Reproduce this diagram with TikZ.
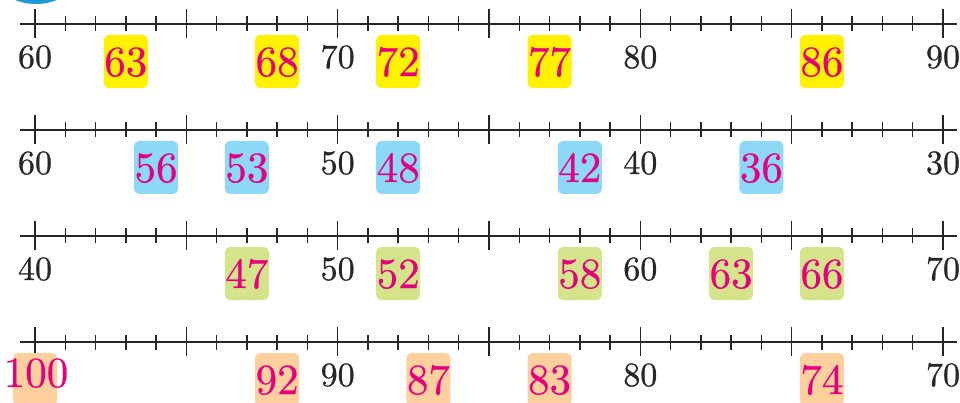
\documentclass[tikz,border=0pt]{standalone}
\usepackage{fontspec}
\font\labfont="[lmroman10-regular.otf]:embolden=0.8" at 34pt
\font\numfont="[lmroman10-regular.otf]:embolden=0.5" at 43pt
\definecolor{tickc}{HTML}{262626}
\definecolor{mag}{HTML}{E4007F}
\definecolor{yel}{HTML}{FFF100}
\definecolor{sky}{HTML}{8ED8F7}
\definecolor{lime}{HTML}{D5E38B}
\definecolor{peach}{HTML}{FDD09D}
\definecolor{ring}{HTML}{1B9BD7}
\begin{document}
\begin{tikzpicture}[x=1pt,y=-1pt,
  axis/.style={line width=1.5pt,draw=tickc},
  lab/.style={anchor=base,inner sep=0pt,font=\labfont,text=tickc},
  num/.style={anchor=base,inner sep=0pt,font=\numfont,text=mag,
    minimum width=44pt,text height=41pt,text depth=12pt,rounded corners=5pt}]
\useasboundingbox (0,0) rectangle (960,403);
\begin{scope}
\clip (0,0) rectangle (960,403);
\fill[ring] (36,-53) circle (57pt);
\end{scope}
% axes and ticks
\foreach \yy in {24,130,236,342}{
  \draw[axis] (20,\yy) -- (957,\yy);
  \foreach \k in {0,...,30}{
    \draw[axis] ({35+30.2667*\k},\yy-7.5) -- ({35+30.2667*\k},\yy+7.5);
  }
  \foreach \k in {0,5,...,30}{
    \draw[axis] ({35+30.2667*\k},\yy-15) -- ({35+30.2667*\k},\yy+14);
  }
}
% row 1
\node[lab] (a60) at ({35+30.2667*0},68) {60};
\node[lab] (a70) at ({35+30.2667*10},68) {70};
\node[lab] (a80) at ({35+30.2667*20},68) {80};
\node[lab] (a90) at ({35+30.2667*30},68) {90};
\node[num,fill=yel] (b63) at ({35+30.2667*3},76) {63};
\node[num,fill=yel] (b68) at ({35+30.2667*8},76) {68};
\node[num,fill=yel] (b72) at ({35+30.2667*12},76) {72};
\node[num,fill=yel] (b77) at ({35+30.2667*17},76) {77};
\node[num,fill=yel] (b86) at ({35+30.2667*26},76) {86};
% row 2
\node[lab] (c60) at ({35+30.2667*0},174) {60};
\node[lab] (c50) at ({35+30.2667*10},174) {50};
\node[lab] (c40) at ({35+30.2667*20},174) {40};
\node[lab] (c30) at ({35+30.2667*30},174) {30};
\node[num,fill=sky] (d56) at ({35+30.2667*4},182) {56};
\node[num,fill=sky] (d53) at ({35+30.2667*7},182) {53};
\node[num,fill=sky] (d48) at ({35+30.2667*12},182) {48};
\node[num,fill=sky] (d42) at ({35+30.2667*18},182) {42};
\node[num,fill=sky] (d36) at ({35+30.2667*24},182) {36};
% row 3
\node[lab] (e40) at ({35+30.2667*0},280) {40};
\node[lab] (e50) at ({35+30.2667*10},280) {50};
\node[lab] (e60) at ({35+30.2667*20},280) {60};
\node[lab] (e70) at ({35+30.2667*30},280) {70};
\node[num,fill=lime] (f47) at ({35+30.2667*7},288) {47};
\node[num,fill=lime] (f52) at ({35+30.2667*12},288) {52};
\node[num,fill=lime] (f58) at ({35+30.2667*18},288) {58};
\node[num,fill=lime] (f63) at ({35+30.2667*23},288) {63};
\node[num,fill=lime] (f66) at ({35+30.2667*26},288) {66};
% row 4
\node[lab] (g90) at ({35+30.2667*10},386) {90};
\node[lab] (g80) at ({35+30.2667*20},386) {80};
\node[lab] (g70) at ({35+30.2667*30},386) {70};
\node[num,fill=peach] (h100box) at ({35+30.2667*0},394) {\phantom{00}};
\node[num,text height=0pt,text depth=0pt,minimum width=0pt] (h100) at (36,387) {100};
\node[num,fill=peach] (h92) at ({35+30.2667*8},394) {92};
\node[num,fill=peach] (h87) at ({35+30.2667*13},394) {87};
\node[num,fill=peach] (h83) at ({35+30.2667*17},394) {83};
\node[num,fill=peach] (h74) at ({35+30.2667*26},394) {74};
\end{tikzpicture}
\end{document}
